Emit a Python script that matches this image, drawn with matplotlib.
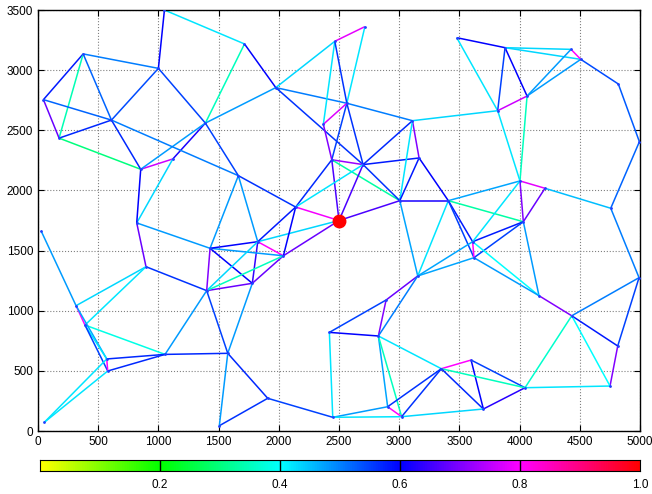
import numpy as np
import matplotlib
matplotlib.use("Agg")
import matplotlib.pyplot as plt
from matplotlib.colors import LinearSegmentedColormap
from matplotlib.collections import LineCollection

plt.rcParams['font.family'] = ['Liberation Sans', 'DejaVu Sans']

# node positions
node_x = [45, 375, 1000, 1050, 1715, 610, 175, 1390, 1120, 853,
          1664, 820, 1975, 2465, 2715, 2565, 2370, 2440, 2700, 3110,
          3165, 3005, 3408, 2140, 2500, 3478, 3879, 4427, 4508, 4820,
          4995, 4062, 3818, 4003, 4211, 4757, 4031, 3610, 3621, 4161,
          4433, 4992, 4815, 4751, 4045, 3597, 3350, 3699, 1825, 2038,
          1780, 3154, 2891, 2827, 2420, 2904, 3020, 2448, 1908, 25,
          316, 390, 571, 579, 52, 1055, 897, 1401, 1429, 1576, 1506]
node_y = [2755, 3135, 3015, 3500, 3218, 2585, 2435, 2560, 2262, 2176,
          2123, 1730, 2855, 3240, 3362, 2725, 2550, 2255, 2215, 2580,
          2270, 1915, 1915, 1862, 1750, 3270, 3187, 3173, 3090, 2885,
          2405, 2785, 2663, 2079, 2018, 1852, 1740, 1574, 1441, 1125,
          958, 1275, 707, 374, 360, 590, 518, 183, 1574, 1457,
          1228, 1289, 1089, 790, 820, 202, 119, 114, 272, 1665,
          1042, 881, 599, 499, 72, 637, 1366, 1167, 1519, 646, 44]
source_node = 24

# edges: start node, end node, weight
edge_a = [0, 1, 1, 1, 2, 2, 2, 3, 4, 0, 0, 6, 6, 5, 9, 8, 9, 11, 9, 5,
          7, 7, 4, 12, 12, 15, 12, 13, 14, 13, 13, 15, 15, 15, 16, 17, 17, 17, 17, 18,
          18, 18, 18, 18, 19, 19, 20, 20, 21, 21, 23, 10, 24, 24, 23, 23, 19,
          25, 25, 26, 26, 26, 26, 27, 27, 28, 28, 29, 30, 31, 31, 32, 33, 33, 33, 34,
          34, 22, 22, 22, 37, 38, 37, 36, 37, 38, 39, 40, 41, 40, 42, 40, 40, 44, 44,
          45, 45, 46, 46, 46, 47, 41, 33, 21, 22, 51, 51,
          54, 54, 52, 52, 53, 53, 53, 53, 55, 55, 57, 56, 55, 54, 57, 58, 69,
          48, 48, 49, 50, 67, 68, 67, 68, 68, 67, 10, 10, 11, 11, 66, 67, 67, 65,
          59, 60, 60, 61, 61, 60, 61, 61, 62, 62, 63, 64, 64, 65, 69]
edge_b = [1, 6, 2, 5, 3, 5, 7, 4, 7, 6, 5, 5, 9, 9, 8, 7, 7, 8, 11, 10,
          10, 12, 12, 13, 15, 19, 18, 14, 15, 16, 15, 18, 17, 16, 17, 18, 23, 21, 24, 24,
          23, 19, 20, 21, 20, 21, 21, 22, 22, 24, 24, 23, 48, 49, 48, 49, 32,
          26, 32, 32, 31, 27, 28, 28, 31, 31, 29, 30, 35, 32, 33, 33, 34, 22, 36, 36,
          35, 36, 37, 38, 36, 36, 38, 39, 39, 39, 40, 41, 42, 42, 43, 43, 44, 43, 47,
          47, 44, 45, 44, 47, 56, 35, 37, 51, 51, 37, 38,
          52, 53, 53, 51, 51, 46, 55, 56, 56, 57, 56, 46, 46, 57, 58, 70, 58,
          49, 50, 50, 69, 50, 50, 49, 49, 48, 48, 48, 68, 68, 66, 67, 68, 69, 67,
          60, 61, 66, 66, 65, 62, 62, 63, 63, 65, 65, 62, 63, 69, 70]
edge_w = [0.58, 0.34, 0.50, 0.52, 0.60, 0.54, 0.55, 0.42, 0.35, 0.68, 0.52, 0.57, 0.30, 0.57, 0.76, 0.62, 0.48, 0.43, 0.60, 0.50,
          0.55, 0.48, 0.60, 0.43, 0.50, 0.50, 0.56, 0.78, 0.42, 0.42, 0.56, 0.56, 0.55, 0.77, 0.70, 0.72, 0.57, 0.33, 0.66, 0.66,
          0.42, 0.57, 0.58, 0.56, 0.70, 0.42, 0.58, 0.60, 0.62, 0.66, 0.79, 0.56, 0.43, 0.68, 0.58, 0.60, 0.43,
          0.60, 0.42, 0.55, 0.60, 0.43, 0.43, 0.80, 0.48, 0.48, 0.54, 0.53, 0.52, 0.76, 0.35, 0.42, 0.78, 0.47, 0.70, 0.68,
          0.45, 0.33, 0.58, 0.55, 0.58, 0.55, 0.80, 0.48, 0.40, 0.48, 0.70, 0.50, 0.55, 0.58, 0.70, 0.40, 0.36, 0.42, 0.63,
          0.60, 0.55, 0.80, 0.35, 0.57, 0.43, 0.50, 0.42, 0.47, 0.42, 0.47, 0.47,
          0.55, 0.60, 0.70, 0.68, 0.50, 0.42, 0.47, 0.35, 0.80, 0.48, 0.42, 0.56, 0.56, 0.42, 0.55, 0.56, 0.57,
          0.80, 0.64, 0.68, 0.48, 0.68, 0.60, 0.35, 0.48, 0.60, 0.43, 0.48, 0.48, 0.48, 0.68, 0.56, 0.70, 0.55, 0.48,
          0.48, 0.80, 0.43, 0.42, 0.38, 0.47, 0.42, 0.55, 0.80, 0.57, 0.57, 0.42, 0.42, 0.57, 0.48]

cbar_ticks = [0.2, 0.4, 0.6, 0.8, 1.0]

cmap = LinearSegmentedColormap.from_list(
    "ygcbmr", [(0.0, (1, 1, 0)), (0.2, (0, 1, 0)), (0.4, (0, 1, 1)),
               (0.6, (0, 0, 1)), (0.8, (1, 0, 1)), (1.0, (1, 0, 0))])

fig = plt.figure(figsize=(6.52, 4.94), dpi=100)
ax = fig.add_axes([0.0583, 0.1275, 0.9233, 0.8522])

segs = [[(node_x[a], node_y[a]), (node_x[b], node_y[b])] for a, b in zip(edge_a, edge_b)]
lc = LineCollection(segs, cmap=cmap, linewidths=1.1)
lc.set_array(np.array(edge_w))
lc.set_clim(0, 1)
ax.add_collection(lc)

ax.plot(node_x, node_y, '.', color='#2040ff', markersize=2, zorder=3)
ax.plot(node_x[source_node], node_y[source_node], 'o', color='red',
        markersize=9, zorder=4)

ax.set_xlim(0, 5000)
ax.set_ylim(0, 3500)
ax.set_xticks(np.arange(0, 5001, 500))
ax.set_yticks(np.arange(0, 3501, 500))
ax.grid(True, linestyle=':', color='#808080', linewidth=0.8)
ax.tick_params(direction='in', length=4, top=True, right=True, labelsize=8.5)
for s in ax.spines.values():
    s.set_linewidth(1.0)

# colorbar
cax = fig.add_axes([0.0613, 0.047, 0.9203, 0.021])
grad = np.linspace(0, 1, 512).reshape(1, -1)
cax.imshow(grad, aspect='auto', cmap=cmap, extent=[0, 1, 0, 1])
for t in cbar_ticks[:-1]:
    cax.axvline(t, color='black', linewidth=1.0)
cax.set_xlim(0, 1)
cax.set_yticks([])
cax.set_xticks(cbar_ticks)
cax.set_xticklabels(['%.1f' % t for t in cbar_ticks])
cax.tick_params(length=0, labelsize=8.5, pad=6)

fig.savefig("out.png", dpi=100)
